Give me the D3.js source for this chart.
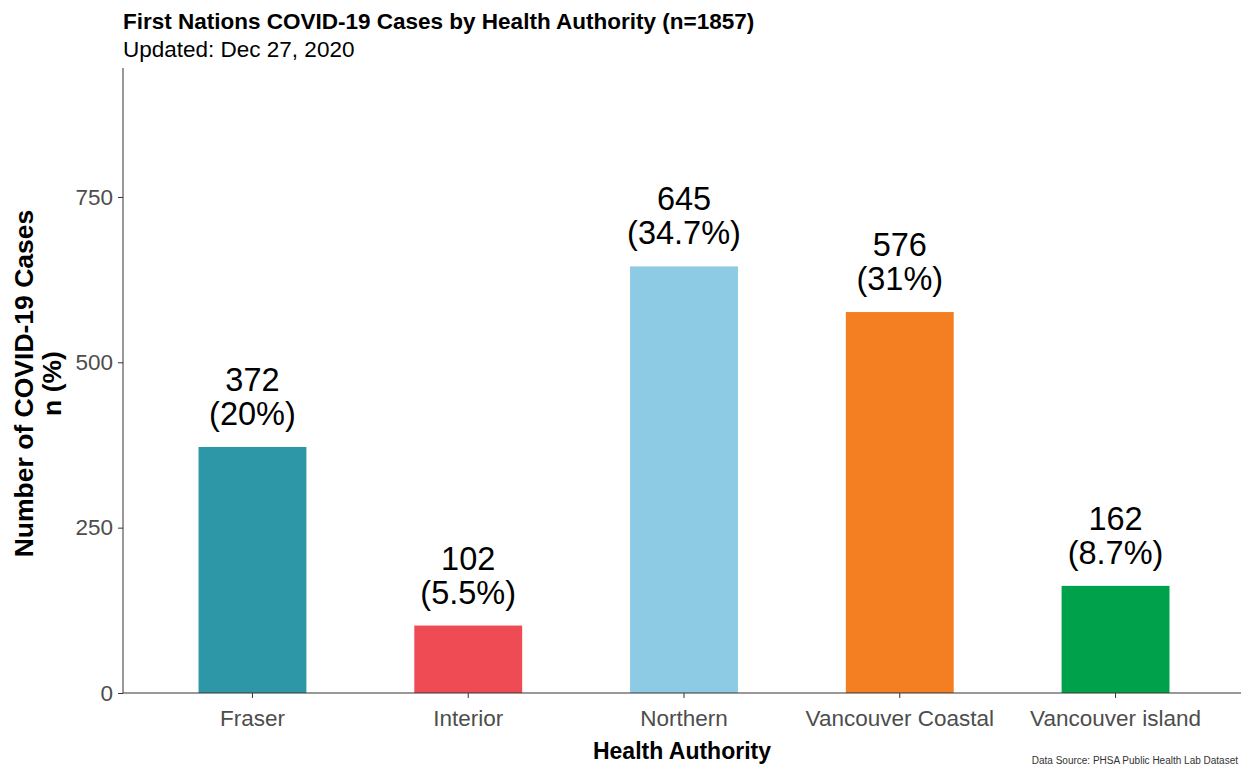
<!DOCTYPE html>
<html>
<head>
<meta charset="utf-8">
<script src="https://cdn.jsdelivr.net/npm/d3@7"></script>
<style>
  body { margin: 0; background: #fff; }
  svg { font-family: "Liberation Sans", Arial, sans-serif; display: block; }
</style>
</head>
<body>
<div id="chart"></div>
<script>
// chart data
const authorities = ["Fraser", "Interior", "Northern", "Vancouver Coastal", "Vancouver island"];
const cases = [372, 102, 645, 576, 162];
const percentLabels = ["20%", "5.5%", "34.7%", "31%", "8.7%"];
const barColors = ["#2E97A7", "#EF4B55", "#8DCAE3", "#F47F22", "#00A14B"];
const yTicks = [0, 250, 500, 750];

const width = 1241, height = 766;
const plotLeft = 123, plotRight = 1245, plotTop = 68, plotBottom = 693;

const svg = d3.select("#chart").append("svg")
    .attr("width", width)
    .attr("height", height);

const x = d3.scaleBand()
    .domain(authorities)
    .range([plotLeft, plotRight])
    .paddingInner(0.5)
    .paddingOuter(0.35);

const y = d3.scaleLinear()
    .domain([0, 945])
    .range([plotBottom, plotTop]);

const data = authorities.map((a, i) => ({name: a, n: cases[i], pct: percentLabels[i], color: barColors[i]}));

// bars
svg.append("g")
    .selectAll("rect")
    .data(data)
    .enter().append("rect")
    .attr("x", d => x(d.name))
    .attr("y", d => y(d.n))
    .attr("width", x.bandwidth())
    .attr("height", d => y(0) - y(d.n))
    .attr("fill", d => d.color);

// value labels: count on top, share below
const lab = svg.append("g")
    .selectAll("text")
    .data(data)
    .enter().append("text")
    .attr("text-anchor", "middle")
    .attr("font-size", 32.5)
    .attr("fill", "#000");
lab.append("tspan")
    .attr("x", d => x(d.name) + x.bandwidth() / 2)
    .attr("y", d => y(d.n) - 56)
    .text(d => d.n);
lab.append("tspan")
    .attr("x", d => x(d.name) + x.bandwidth() / 2)
    .attr("y", d => y(d.n) - 22)
    .text(d => "(" + d.pct + ")");

// y axis
const yAxis = svg.append("g")
    .attr("transform", "translate(" + plotLeft + ",0)")
    .call(d3.axisLeft(y).tickValues(yTicks).tickSize(5).tickPadding(5));
yAxis.select(".domain").attr("d", "M0," + plotTop + "V" + plotBottom).attr("stroke", "#333");
yAxis.selectAll(".tick line").attr("stroke", "#333");
yAxis.selectAll(".tick text")
    .attr("font-size", 22.5)
    .attr("font-family", "Liberation Sans, Arial, sans-serif")
    .attr("fill", "#4d4d4d");

// x axis
const xAxis = svg.append("g")
    .attr("transform", "translate(0," + plotBottom + ")")
    .call(d3.axisBottom(x).tickSize(5).tickPadding(12));
xAxis.select(".domain").attr("d", "M" + plotLeft + ",0H" + plotRight).attr("stroke", "#333");
xAxis.selectAll(".tick line").attr("stroke", "#333");
xAxis.selectAll(".tick text")
    .attr("font-size", 22.5)
    .attr("font-family", "Liberation Sans, Arial, sans-serif")
    .attr("fill", "#4d4d4d");

// titles
svg.append("text")
    .attr("x", plotLeft)
    .attr("y", 29)
    .attr("font-size", 22.5)
    .attr("font-weight", "bold")
    .text("First Nations COVID-19 Cases by Health Authority (n=1857)");
svg.append("text")
    .attr("x", plotLeft)
    .attr("y", 57)
    .attr("font-size", 22.5)
    .text("Updated: Dec 27, 2020");

// y axis title
const yt = svg.append("text")
    .attr("transform", "translate(0," + 383.5 + ") rotate(-90)")
    .attr("text-anchor", "middle")
    .attr("font-size", 26.5)
    .attr("font-weight", "bold");
yt.append("tspan").attr("x", 0).attr("y", 33).text("Number of COVID-19 Cases");
yt.append("tspan").attr("x", 0).attr("y", 61).text("n (%)");

// x axis title
svg.append("text")
    .attr("x", 682)
    .attr("y", 759)
    .attr("text-anchor", "middle")
    .attr("font-size", 23)
    .attr("font-weight", "bold")
    .text("Health Authority");

// caption in the bottom right corner
svg.append("text")
    .attr("x", 1238)
    .attr("y", 764)
    .attr("text-anchor", "end")
    .attr("font-size", 10)
    .attr("fill", "#333")
    .text("Data Source: PHSA Public Health Lab Dataset");
</script>
</body>
</html>
